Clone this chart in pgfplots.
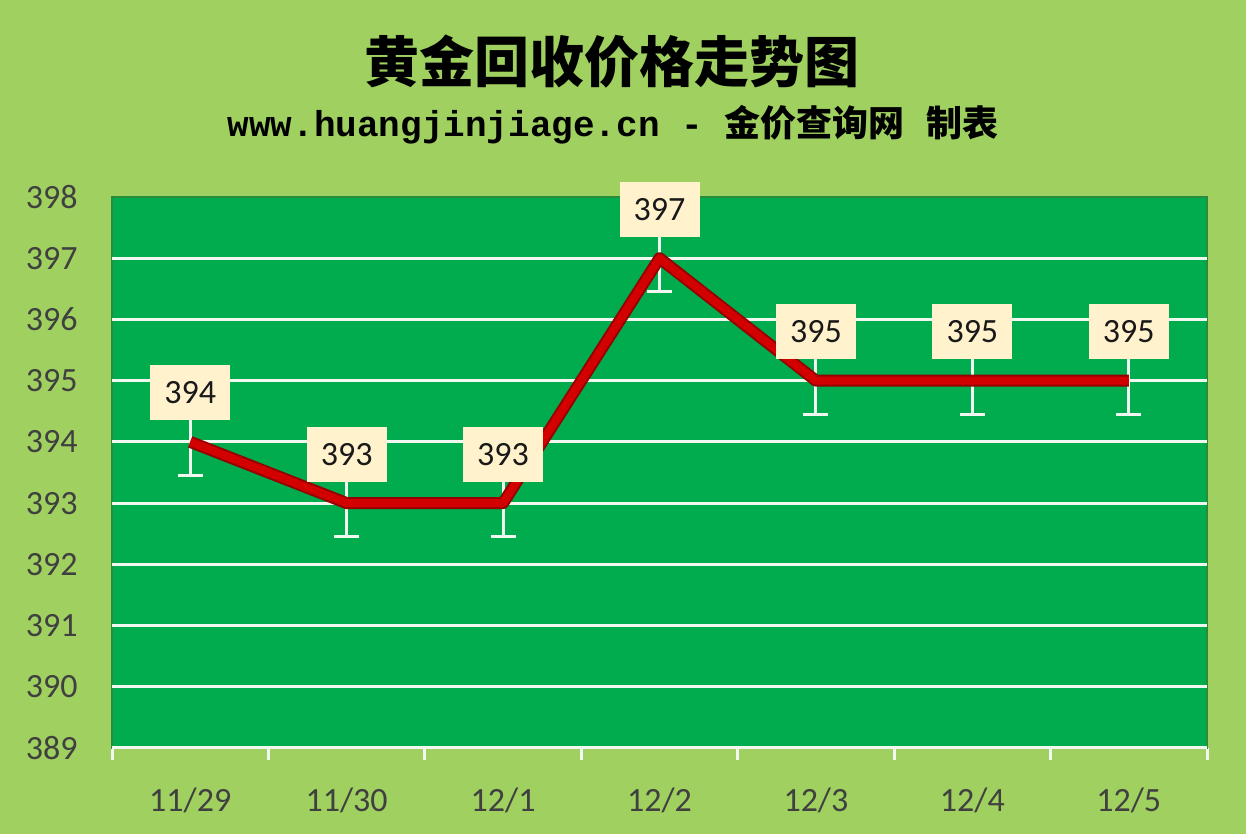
\documentclass[border=0pt]{standalone}
\usepackage{fontspec}
\setmainfont{Carlito}
\newfontfamily\cjk{Noto Sans CJK SC}
\newfontfamily\mono{Liberation Mono}
\usepackage{pgfplots}
\usepackage{pgfplotstable}
\pgfplotsset{compat=1.18}

\definecolor{bggreen}{RGB}{160,208,96}
\definecolor{plotgreen}{RGB}{0,172,77}
\definecolor{bordergreen}{RGB}{40,140,60}
\definecolor{gridwhite}{RGB}{240,248,240}
\definecolor{labelfill}{RGB}{255,242,204}
\definecolor{tickgray}{RGB}{64,64,64}
\definecolor{darkred}{RGB}{150,0,0}
\definecolor{brightred}{RGB}{210,0,0}

% 黄金回收价格 (元/克)
\pgfplotstableread{
x price
0 394
1 393
2 393
3 397
4 395
5 395
6 395
}\gold

\begin{document}
\begin{tikzpicture}[x=1pt,y=1pt]
\fill[bggreen] (0,0) rectangle (623,417);
\path[use as bounding box] (0,0) rectangle (623,417);
\begin{axis}[
	at={(56pt,43pt)}, anchor=south west,
	scale only axis, width=547.5pt, height=275.5pt,
	xmin=-0.5, xmax=6.5, ymin=389, ymax=398,
	axis background/.style={fill=plotgreen},
	axis line style={draw=bordergreen, line width=1pt},
	xtick={0,...,6},
	xticklabels={11/29,11/30,12/1,12/2,12/3,12/4,12/5},
	ytick={389,...,398},
	xtick pos=bottom, ytick pos=left,
	major tick length=0pt,
	minor xtick={-0.5,0.5,...,6.5},
	minor tick length=6pt, tick align=outside,
	minor tick style={gridwhite, line width=1.5pt},
	extra y ticks={390,...,397},
	extra y tick labels={},
	extra y tick style={grid=major},
	major grid style={gridwhite, line width=1.5pt},
	ticklabel style={font=\fontsize{17}{17}\selectfont, text=tickgray},
	yticklabel style={inner sep=0pt, xshift=-17pt},
	xticklabel style={anchor=center, yshift=-26pt},
	/pgf/number format/assume math mode=true,
	clip=false,
]
	% 误差线
	\addplot[draw=none, mark=none, forget plot,
		error bars/.cd, y dir=both, y fixed=0.55,
		error bar style={draw=gridwhite, line width=1.5pt},
		error mark options={rotate=90, draw=gridwhite, mark size=6.25pt, line width=1.5pt}]
		table[x=x, y=price] {\gold};
	% 折线
	\addplot[darkred, line width=6pt, line join=round, mark=none] table[x=x, y=price] {\gold};
	\addplot[brightred, line width=4pt, line join=round, mark=none] table[x=x, y=price] {\gold};
	% 数据标签
	\addplot[draw=none, mark=none, nodes near coords,
		nodes near coords style={fill=labelfill, text=black!90, minimum width=40pt,
			minimum height=27.5pt, inner sep=0pt, anchor=south, yshift=10.5pt,
			font=\fontsize{17}{17}\selectfont}]
		table[x=x, y=price] {\gold};
	\draw[gridwhite, line width=1.5pt] (axis cs:-0.5,389) -- (axis cs:6.5,389);
\end{axis}
\node[font=\cjk\bfseries\fontsize{27.5}{27.5}\selectfont] at (306,386) {黄金回收价格走势图};
\node[font=\bfseries\fontsize{18}{18}\selectfont] at (306.5,354.5)
	{{\mono www.huangjinjiage.cn -~}{\cjk 金价查询网}{\mono\ }{\cjk 制表}};
\end{tikzpicture}
\end{document}
